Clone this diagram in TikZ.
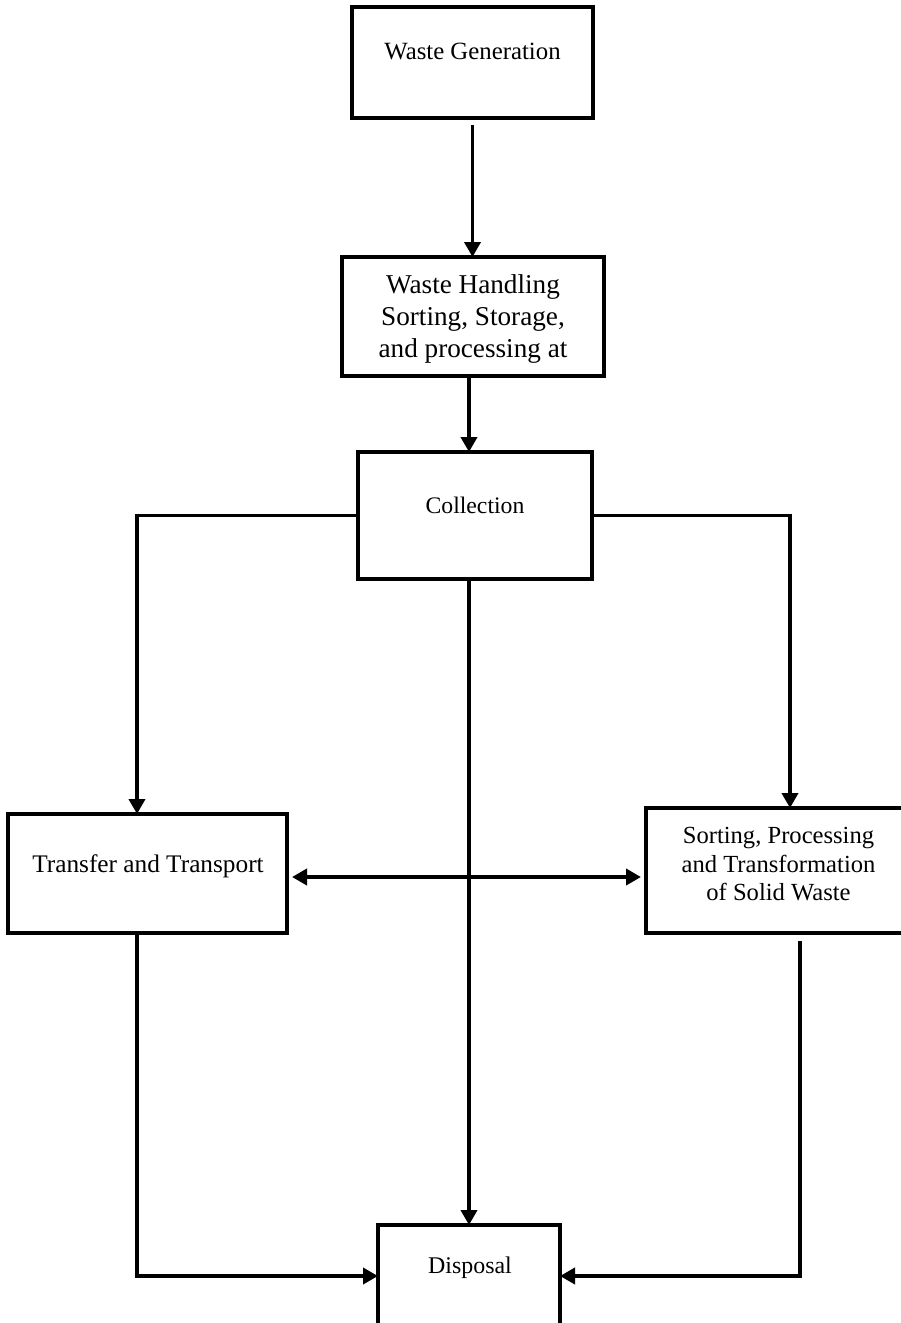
\documentclass[tikz,border=0pt]{standalone}
\usepackage{fontspec}
\setmainfont{Liberation Serif}
\usetikzlibrary{arrows.meta}
\begin{document}
\begin{tikzpicture}[x=1pt,y=-1pt,
  box/.style={draw=black,line width=4pt,inner sep=0pt,outer sep=0pt,rectangle},
  conn/.style={draw=black,line width=3.8pt,line join=miter},
  arr/.style={conn,-{Triangle[width=16pt,length=15pt]}},
  darr/.style={conn,{Triangle[width=16pt,length=15pt]}-{Triangle[width=16pt,length=15pt]}},
  lbl/.style={inner sep=0pt,anchor=base,text=black}]
\useasboundingbox (0,0) rectangle (901,1323);
\clip (0,0) rectangle (901,1323);
\fill[white] (0,0) rectangle (901,1323);

% boxes
\node[box,minimum width=241pt,minimum height=111pt] (wg) at (472.5,62.5) {};
\node[box,minimum width=262pt,minimum height=119pt] (wh) at (473,316.5) {};
\node[box,minimum width=234pt,minimum height=127pt] (coll) at (475,515.5) {};
\node[box,minimum width=279pt,minimum height=119pt] (tt) at (147.5,873.5) {};
\node[box,minimum width=265pt,minimum height=125pt] (sp) at (778.5,870.5) {};
\node[box,minimum width=182pt,minimum height=102pt] (disp) at (469,1276) {};

% texts
\node[lbl,font=\fontsize{24.8pt}{30pt}\selectfont] (wgt) at (472.5,59) {Waste Generation};
\node[lbl,font=\fontsize{27.2pt}{32pt}\selectfont] (wh1) at (473,293) {Waste Handling};
\node[lbl,font=\fontsize{27.2pt}{32pt}\selectfont] (wh2) at (473,325) {Sorting, Storage,};
\node[lbl,font=\fontsize{27.2pt}{32pt}\selectfont] (wh3) at (473,357) {and processing at};
\node[lbl,font=\fontsize{23.7pt}{28pt}\selectfont] (collt) at (475,513) {Collection};
\node[lbl,font=\fontsize{25.3pt}{30pt}\selectfont] (ttt) at (148,872) {Transfer and Transport};
\node[lbl,font=\fontsize{24.6pt}{29pt}\selectfont] (sp1) at (778.5,843) {Sorting, Processing};
\node[lbl,font=\fontsize{24.6pt}{29pt}\selectfont] (sp2) at (778.5,872) {and Transformation};
\node[lbl,font=\fontsize{24.6pt}{29pt}\selectfont] (sp3) at (778.5,900) {of Solid Waste};
\node[lbl,font=\fontsize{23.9pt}{28pt}\selectfont] (dispt) at (470,1273) {Disposal};

% connectors
\draw[arr,shorten <=7pt] (wg.south) -- (wg.south |- wh.north);
\draw[arr,shorten <=2pt] ([xshift=-4pt]wh.south) -- ([xshift=-4pt]wh.south |- coll.north);
\draw[arr] (coll.west) -| ([xshift=-10.5pt]tt.north);
\draw[arr] (coll.east) -| ([xshift=11.5pt]sp.north);
\draw[arr] ([xshift=-6pt]coll.south) -- (disp.north);
\draw[darr,shorten <=5pt,shorten >=5pt] (tt.east |- 0,877) -- (sp.west |- 0,877);
\draw[arr] ([xshift=-10.5pt]tt.south) |- (disp.west);
\draw[arr,shorten <=8pt] ([xshift=21.5pt]sp.south) |- (disp.east);
\end{tikzpicture}
\end{document}
